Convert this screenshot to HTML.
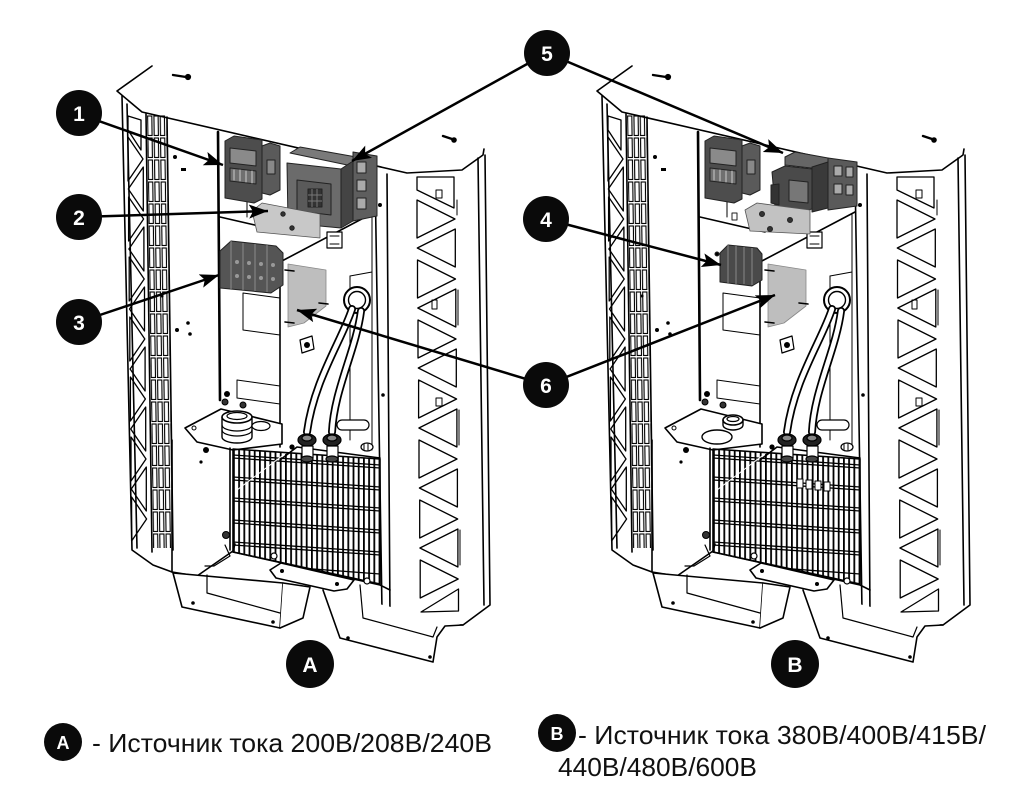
<!DOCTYPE html>
<html><head><meta charset="utf-8">
<style>
html,body{margin:0;padding:0;background:#fff;}
svg{display:block;}
</style></head><body>
<svg width="1024" height="795" viewBox="0 0 1024 795" xmlns="http://www.w3.org/2000/svg" xmlns:xlink="http://www.w3.org/1999/xlink">
<defs>
  <pattern id="slots" patternUnits="userSpaceOnUse" x="147" y="115" width="6.3" height="22">
    <rect x="0.6" y="1" width="4.2" height="19.5" fill="none" stroke="#000" stroke-width="1.1"/>
  </pattern>
  <pattern id="bars" patternUnits="userSpaceOnUse" x="233" y="0" width="5.2" height="20">
    <rect x="0" y="0" width="1.8" height="20" fill="#000"/>
  </pattern>
  <clipPath id="gclip"><polygon points="233,449 380,459 380,584 233,552"/></clipPath>
  <marker id="ah" markerUnits="userSpaceOnUse" markerWidth="22" markerHeight="16" refX="19" refY="7" orient="auto">
    <path d="M0,0 L19,7 L0,14 L4,7 Z" fill="#000"/>
  </marker>

  <g id="cab" fill="none" stroke="#000" stroke-width="1.6" stroke-linejoin="round" stroke-linecap="round">
    <!-- lid -->
    <path d="M117,91 L152,66 M117,91 L142,112 L407,173 L462,170 L483,155 L484,149"/>
    <path d="M173,75 L186,77" stroke-width="2.4"/><circle cx="188" cy="77" r="2.3" fill="#000"/>
    <path d="M443,136 L452,139" stroke-width="2.4"/><circle cx="454" cy="140" r="2" fill="#000"/>

    <!-- left rail -->
    <path d="M122,96 L132,550 L153,565 L172,572"/>
    <path d="M127,104 L137,548"/>
    <path d="M146,114 L152,552"/>
    <path d="M167,117 L173,550"/>
    <g stroke-width="1.3">
      <polygon points="128,137 128,181 143,159"/>
      <polygon points="128.6,197 128.6,241 143.6,219"/>
      <polygon points="129.2,257 129.2,301 144.2,279"/>
      <polygon points="129.8,317 129.8,361 144.8,339"/>
      <polygon points="130.4,377 130.4,421 145.4,399"/>
      <polygon points="131,437 131,481 146,459"/>
      <polygon points="131.6,497 131.6,541 146.6,519"/>
      <polygon points="143.3,167 143.3,211 128.3,189"/>
      <polygon points="143.9,227 143.9,271 128.9,249"/>
      <polygon points="144.5,287 144.5,331 129.5,309"/>
      <polygon points="145.1,347 145.1,391 130.1,369"/>
      <polygon points="145.7,407 145.7,451 130.7,429"/>
      <polygon points="146.3,467 146.3,511 131.3,489"/>
      <polygon points="128,116 141,120 141,150 128,130"/>
    </g>
    <rect x="147" y="115" width="19" height="433" fill="url(#slots)" stroke="none" transform="skewX(0.8) translate(-1.6,0)"/>

    <!-- dots left panel -->
    <g fill="#000" stroke="none">
      <circle cx="175" cy="157" r="2"/><rect x="181" y="168" width="5" height="3"/>
      <circle cx="177" cy="330" r="2"/><circle cx="188" cy="323" r="1.8"/><circle cx="190" cy="334" r="1.8"/>
      <circle cx="162" cy="296" r="1.5"/><circle cx="206" cy="450" r="3"/><circle cx="201" cy="462" r="1.6"/>
      <circle cx="380" cy="205" r="2"/><circle cx="383" cy="395" r="1.8"/><circle cx="227" cy="394" r="3"/>
    </g>

    <!-- inner divider and back wall -->
    <path d="M218,132 L220,400" stroke-width="2.6"/>
    <path d="M220,217 L285,232"/>
    <path d="M247,196 L247,217" stroke-width="1"/>
    <path d="M375,172 L382,610"/>
    <path d="M387,174 L390,618"/>
    <path d="M372,214 L372,450" stroke-width="1"/>

    <!-- right rail -->
    <path d="M478,158 L484,605"/>
    <path d="M485,155 L490,605 L463,625 L390,620 L382,612"/>
    <g stroke-width="1.3">
      <polygon points="417,177 454,177 454,208 417,190"/>
      <polygon points="417,200 417,238 455,219"/>
      <polygon points="417.5,260 417.5,298 455.5,279"/>
      <polygon points="418,320 418,358 456,339"/>
      <polygon points="418.6,380 418.6,418 456.6,399"/>
      <polygon points="419,440 419,478 457,459"/>
      <polygon points="419.7,500 419.7,538 457.7,519"/>
      <polygon points="420.2,560 420.2,598 458.2,579"/>
      <polygon points="455.3,229 455.3,267 417.3,248"/>
      <polygon points="455.8,289 455.8,327 417.8,308"/>
      <polygon points="456.3,349 456.3,387 418.3,368"/>
      <polygon points="456.9,409 456.9,447 418.9,428"/>
      <polygon points="457.4,469 457.4,507 419.4,488"/>
      <polygon points="457.9,529 457.9,567 419.9,548"/>
      <polygon points="458.5,589 458.5,611 421,612"/>
      <path d="M457,200 L457,215 M458,290 L458,325 M459,410 L459,445 M460,530 L460,565" stroke-width="1"/>
      <rect x="436" y="190" width="6" height="8" stroke-width="1"/>
      <rect x="432" y="300" width="5" height="9" stroke-width="1"/>
      <rect x="436" y="398" width="6" height="8" stroke-width="1"/>
    </g>

    <!-- middle front panel -->
    <path d="M280,262 L280,447 M280,262 L375,212"/>
    <path d="M350,276 L350,440" stroke-width="1"/>
    <path d="M350,276 L372,272" stroke-width="1"/>
    <polygon points="243,293 280,298 280,335 243,330" stroke-width="1"/>
    <polygon points="237,380 280,386 280,404 237,398" stroke-width="1"/>
    <rect x="327" y="232" width="15" height="16" stroke-width="1.2" fill="#fff"/>
    <path d="M330,236 L339,236 M330,244 L339,244" stroke-width="1"/>
    <path d="M300,340 L312,336 L314,349 L302,353 Z" stroke-width="1.2"/>
    <circle cx="307" cy="345" r="3" fill="#000" stroke="none"/>

    <!-- gray plate 6 -->
    <path d="M288,264 L326,270 L326,306 L304,323 L288,327 Z" fill="#bebebe" stroke="#888" stroke-width="0.8"/>
    <path d="M285,270 L294,271 M319,303 L328,304 M285,322 L294,323" stroke-width="1.6"/>

    <!-- cable gland and cables -->
    <circle cx="357" cy="300" r="13" fill="#fff" stroke-width="2"/>
    <circle cx="357" cy="300" r="8.5" stroke-width="1.4"/>
    <path d="M352,309 C342,340 314,380 307,432" stroke-width="8"/>
    <path d="M352,309 C342,340 314,380 307,432" stroke="#fff" stroke-width="4.5"/>
    <path d="M361,311 C356,350 334,390 332,432" stroke-width="8"/>
    <path d="M361,311 C356,350 334,390 332,432" stroke="#fff" stroke-width="4.5"/>

    <!-- shelf plate -->
    <path d="M185,428 L221,409 L282,424 L282,444 L233,450 L197,442 Z" fill="#fff"/>
    <circle cx="225" cy="402" r="3" fill="#333" stroke-width="1"/>
    <circle cx="243" cy="405" r="3" fill="#333" stroke-width="1"/>
    <circle cx="194" cy="428" r="2" stroke-width="1"/>

    <!-- left lower panel -->
    <path d="M172,440 L172,572 M230,448 L230,550 M172,572 L197,576 L233,551 L235,544"/>

    <!-- grille -->
    <g clip-path="url(#gclip)">
      <rect x="233" y="440" width="150" height="150" fill="url(#bars)" stroke="none"/>
      <g stroke-width="1.3">
        <path d="M233,455 L380,465 M233,458 L380,468"/>
        <path d="M233,477 L380,487 M233,480 L380,490"/>
        <path d="M233,498 L380,508 M233,501 L380,511"/>
        <path d="M233,520 L380,530 M233,523 L380,533"/>
        <path d="M233,542 L380,552 M233,545 L380,555"/>
        <path d="M233,563 L380,574"/>
      </g>
      <path d="M237,490 L290,450" stroke-width="1" stroke="#fff"/>
    </g>
    <polygon points="233,449 380,459 380,584 233,552"/>
    <path d="M280,460 L297,447 L380,458"/>
    <path d="M233,552 L380,585 L390,590"/>

    <!-- connectors -->
    <g stroke-width="1.2">
      <ellipse cx="307" cy="440" rx="9" ry="6" fill="#222"/>
      <ellipse cx="307" cy="438" rx="5" ry="3" fill="#888"/>
      <ellipse cx="332" cy="440" rx="9" ry="6" fill="#222"/>
      <ellipse cx="332" cy="438" rx="5" ry="3" fill="#888"/>
      <rect x="302" y="446" width="11" height="12" fill="#fff"/>
      <rect x="327" y="446" width="11" height="12" fill="#fff"/>
      <ellipse cx="307" cy="459" rx="6" ry="3" fill="#444"/>
      <ellipse cx="332" cy="459" rx="6" ry="3" fill="#444"/>
      <rect x="337" y="420" width="32" height="10" rx="5" fill="#fff"/>
      <ellipse cx="367" cy="447" rx="6" ry="4" fill="#fff"/>
      <path d="M364,444 L364,450 M368,444 L368,450" stroke-width="1"/>
      <circle cx="292" cy="447" r="2" fill="#000"/>
    </g>

    <!-- feet -->
    <path d="M173,573 L182,607 L280,628 L283,583 Z" fill="#fff"/>
    <path d="M207,575 L207,593 L280,613" stroke-width="1.2"/>
    <path d="M283,583 L310,587 L303,618 L280,628" fill="#fff"/>
    <circle cx="193" cy="603" r="1.8" fill="#000" stroke="none"/>
    <circle cx="273" cy="622" r="1.8" fill="#000" stroke="none"/>
    <path d="M323,590 L340,638 L433,662 L437,637 L445,626 L463,625" fill="#fff"/>
    <path d="M360,585 L363,618 L433,637 L437,627" stroke-width="1.2"/>
    <circle cx="348" cy="638" r="1.8" fill="#000" stroke="none"/>
    <circle cx="430" cy="657" r="1.8" fill="#000" stroke="none"/>
    <path d="M270,570 L281,563 L354,580 L347,589 L334,591 L276,578 Z" fill="#fff"/>
    <circle cx="282" cy="571" r="2" fill="#000" stroke="none"/>
    <circle cx="337" cy="584" r="2" fill="#000" stroke="none"/>
    <circle cx="274" cy="556" r="3" fill="#fff" stroke-width="1.2"/>
    <circle cx="367" cy="581" r="3" fill="#fff" stroke-width="1.2"/>
    <path d="M225,545 L230,556 L214,566 L205,566" stroke-width="1.2"/>
    <circle cx="226" cy="535" r="3.5" fill="#333" stroke-width="1"/>

    <!-- contactor 1 -->
    <g stroke="#222" stroke-width="1">
      <path d="M225,141 L234,136 L262,140 L262,199 L254,203 L225,198 Z" fill="#4d4d4d"/>
      <path d="M230,148 L256,151 L256,166 L230,163 Z" fill="#8a8a8a"/>
      <path d="M230,168 L256,171 L256,184 L230,181 Z" fill="#707070"/>
      <path d="M234,170 L234,180 M240,170 L240,181 M246,171 L246,182 M252,171 L252,183" stroke="#ccc"/>
      <path d="M262,146 L270,143 L280,146 L280,190 L270,195 L262,193 Z" fill="#5a5a5a"/>
      <rect x="267" y="160" width="8" height="14" fill="#888"/>
    </g>
  </g>
</defs>

<rect width="1024" height="795" fill="#fff"/>

<use href="#cab" xlink:href="#cab"/>
<use href="#cab" xlink:href="#cab" x="480" y="0"/>

<!-- Cabinet A specific -->
<g stroke="#222" stroke-width="1" stroke-linejoin="round">
  <path d="M290,153 L300,147 L362,158 L352,166 Z" fill="#7a7a7a"/>
  <path d="M287,163 L341,169 L341,228 L288,223 Z" fill="#6b6b6b"/>
  <path d="M297,180 L331,184 L331,215 L297,211 Z" fill="#5a5a5a"/>
  <rect x="308" y="189" width="14" height="18" fill="#333"/>
  <path d="M312,189 L312,207 M317,189 L317,207 M308,195 L322,195 M308,201 L322,201" stroke="#777"/>
  <path d="M341,169 L353,161 L353,221 L341,228 Z" fill="#444"/>
  <path d="M353,152 L377,156 L377,216 L353,221 Z" fill="#5e5e5e"/>
  <rect x="357" y="162" width="9" height="11" fill="#aaa"/>
  <rect x="357" y="180" width="9" height="11" fill="#aaa"/>
  <rect x="357" y="198" width="9" height="11" fill="#aaa"/>
  <path d="M252,211 L262,203 L320,214 L320,238 L257,232 Z" fill="#c8c8c8" stroke="#555" stroke-width="0.8"/>
  <circle cx="283" cy="214" r="2.2" fill="#333"/><circle cx="292" cy="228" r="2.2" fill="#333"/>
  <path d="M220,251 L231,241 L276,246 L283,253 L283,285 L271,293 L220,288 Z" fill="#555"/>
  <path d="M231,241 L231,289 M243,243 L243,290 M255,244 L255,291 M267,245 L267,292" stroke="#8a8a8a"/>
  <g fill="#999" stroke="none">
    <circle cx="237" cy="262" r="2"/><circle cx="249" cy="263" r="2"/><circle cx="261" cy="264" r="2"/><circle cx="273" cy="265" r="2"/>
    <circle cx="237" cy="276" r="2"/><circle cx="249" cy="277" r="2"/><circle cx="261" cy="278" r="2"/><circle cx="273" cy="279" r="2"/>
  </g>
  <path d="M222,417 L222,437 A15,6 0 0 0 252,437 L252,417" fill="#fff" stroke="#000" stroke-width="1.4"/>
  <ellipse cx="237" cy="417" rx="15" ry="6" fill="#fff" stroke="#000" stroke-width="1.6"/>
  <ellipse cx="237" cy="416" rx="10" ry="3.5" fill="none" stroke="#000" stroke-width="1.2"/>
  <path d="M222,425 A15,6 0 0 0 252,425 M222,430 A15,6 0 0 0 252,430" fill="none" stroke="#000" stroke-width="1.2"/>
  <ellipse cx="261" cy="426" rx="9" ry="4.5" fill="#fff" stroke="#000" stroke-width="1.2"/>
</g>

<!-- Cabinet B specific -->
<g stroke="#222" stroke-width="1" stroke-linejoin="round">
  <path d="M785,157 L795,152 L828,158 L828,170 L785,165 Z" fill="#666"/>
  <path d="M772,172 L785,166 L812,169 L812,209 L800,212 L775,207 Z" fill="#4a4a4a"/>
  <path d="M789,180 L808,182 L808,203 L789,201 Z" fill="#777"/>
  <path d="M771,185 L779,184 L779,205 L771,203 Z" fill="#333"/>
  <path d="M812,167 L828,162 L828,208 L812,212 Z" fill="#3a3a3a"/>
  <path d="M828,158 L857,162 L857,206 L828,210 Z" fill="#5a5a5a"/>
  <rect x="834" y="166" width="8" height="10" fill="#aaa"/><rect x="846" y="167" width="7" height="10" fill="#aaa"/>
  <rect x="834" y="184" width="8" height="10" fill="#aaa"/><rect x="846" y="185" width="7" height="10" fill="#aaa"/>
  <path d="M745,210 L757,203 L810,210 L810,234 L750,231 Z" fill="#c2c2c2" stroke="#555" stroke-width="0.8"/>
  <circle cx="762" cy="214" r="2.5" fill="#333"/><circle cx="790" cy="220" r="2.5" fill="#333"/><circle cx="770" cy="229" r="2.5" fill="#333"/>
  <rect x="732" y="213" width="5" height="7" fill="#fff"/>
  <path d="M720,253 L728,245 L757,248 L762,254 L762,280 L752,286 L720,282 Z" fill="#4a4a4a"/>
  <path d="M728,245 L728,283 M736,246 L736,284 M744,247 L744,284 M752,248 L752,285" stroke="#888"/>
  <circle cx="717" cy="254" r="2" fill="#000"/>
  <ellipse cx="717" cy="437" rx="15" ry="7" fill="#fff" stroke="#000" stroke-width="1.4"/>
  <ellipse cx="733" cy="420" rx="10" ry="5" fill="#fff" stroke="#000" stroke-width="1.6"/>
  <ellipse cx="733" cy="419" rx="6" ry="2.5" fill="none" stroke="#000" stroke-width="1.2"/>
  <path d="M723,420 L723,425 A10,5 0 0 0 743,425 L743,420" fill="none" stroke="#000" stroke-width="1.4"/>
  <g fill="#fff" stroke="#000" stroke-width="1">
    <rect x="797" y="479" width="6" height="9"/><rect x="806" y="480" width="6" height="9"/>
    <rect x="815" y="481" width="6" height="9"/><rect x="824" y="482" width="6" height="9"/>
  </g>
</g>

<!-- arrows -->
<g stroke="#000" stroke-width="2.5" fill="none" marker-end="url(#ah)">
  <path d="M79,114 L223,165"/>
  <path d="M79,217 L268,211"/>
  <path d="M79,322 L219,275"/>
  <path d="M547,53 L352,161"/>
  <path d="M547,53 L783,153"/>
  <path d="M546,219 L721,265"/>
  <path d="M546,385 L297,310"/>
  <path d="M546,385 L775,295"/>
</g>

<!-- numbered circles -->
<g font-family="'Liberation Sans', Arial, sans-serif" font-weight="bold" font-size="21" fill="#fff" text-anchor="middle">
  <circle cx="79" cy="113" r="23" fill="#0a0a0a"/><text x="79" y="121">1</text>
  <circle cx="79" cy="217" r="23" fill="#0a0a0a"/><text x="79" y="225">2</text>
  <circle cx="79" cy="322" r="23" fill="#0a0a0a"/><text x="79" y="330">3</text>
  <circle cx="547" cy="53" r="23" fill="#0a0a0a"/><text x="547" y="61">5</text>
  <circle cx="546" cy="219" r="23" fill="#0a0a0a"/><text x="546" y="227">4</text>
  <circle cx="546" cy="385" r="23" fill="#0a0a0a"/><text x="546" y="393">6</text>
  <circle cx="310" cy="664" r="24" fill="#0a0a0a"/><text x="310" y="672">A</text>
  <circle cx="795" cy="664" r="24" fill="#0a0a0a"/><text x="795" y="672">B</text>
</g>

<!-- legend -->
<g font-family="'Liberation Sans', Arial, sans-serif">
  <circle cx="63" cy="742" r="19" fill="#0a0a0a"/>
  <text x="63" y="749" font-size="18" font-weight="bold" fill="#fff" text-anchor="middle">A</text>
  <text x="92" y="752" font-size="26" fill="#111" textLength="400" lengthAdjust="spacingAndGlyphs">- Источник тока 200В/208В/240В</text>
  <circle cx="557" cy="733" r="19" fill="#0a0a0a"/>
  <text x="557" y="740" font-size="18" font-weight="bold" fill="#fff" text-anchor="middle">B</text>
  <text x="578" y="744" font-size="26" fill="#111" textLength="408" lengthAdjust="spacingAndGlyphs">- Источник тока 380В/400В/415В/</text>
  <text x="558" y="776" font-size="26" fill="#111" textLength="199" lengthAdjust="spacingAndGlyphs">440В/480В/600В</text>
</g>
</svg>
</body></html>
